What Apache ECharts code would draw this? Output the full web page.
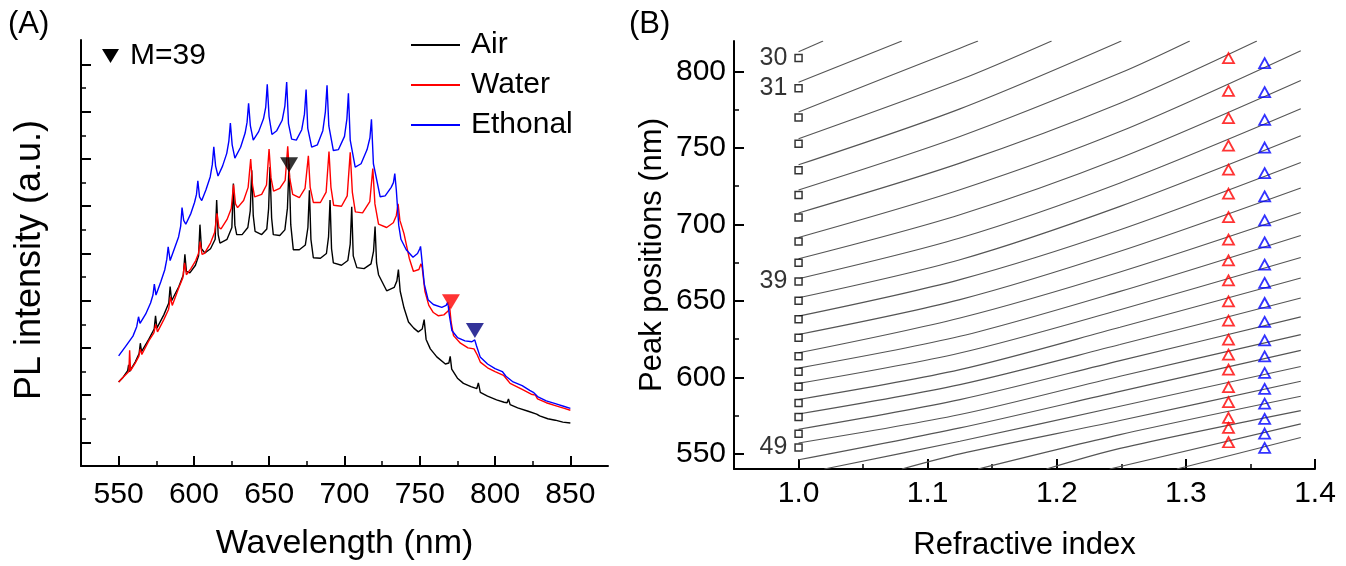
<!DOCTYPE html>
<html>
<head>
<meta charset="utf-8">
<title>PL spectra and mode positions</title>
<script src="https://cdn.jsdelivr.net/npm/echarts@6.0.0/dist/echarts.min.js"></script>
<style>
  html, body { margin: 0; padding: 0; background: #fff; }
  #main { width: 1346px; height: 566px; }
</style>
</head>
<body>
<div id="main"></div>
<script>
// ---- panel (A): PL spectra, wavelength (nm) vs intensity (a.u.) ----
const airNm = [550, 553, 556.0, 556.6, 557.2, 561, 563.6, 564.4, 565.2, 570, 573.6, 574.5, 575.4, 580, 583.3, 584.2, 585.2,
  590, 593.0, 594.0, 595.0, 597.3, 601, 603.1, 604.0, 605.0, 607.3, 611, 614.1, 615.1, 616.1, 617.3, 622, 625.2, 626.2,
  627.2, 628.4, 632, 635.8, 637.4, 638.4, 639.4, 640.6, 645, 648.4, 649.6, 650.5, 651.6, 652.7, 657, 660.4, 662.1, 663.2,
  664.3, 666.0, 670, 674, 675.7, 676.7, 677.7, 679.3, 684, 688, 689.4, 690.4, 691.4, 692.6, 698, 702.2, 703.8, 704.8,
  705.8, 708.2, 713, 717.6, 719.3, 720.3, 721.3, 722.6, 728, 733, 734.8, 735.8, 737, 739.5, 742.5, 746, 749, 751.6,
  752.9, 754.2, 757, 761.3, 767, 769.3, 770.2, 771.2, 775, 779, 784, 787.9, 788.9, 790.2, 795, 801, 806, 808.0, 808.9,
  810.0, 815, 822, 827.6, 828.6, 829.6, 835, 840, 845, 850];
const airI = [1.28, 1.38, 1.52, 1.64, 1.50, 1.70, 1.88, 2.10, 1.92, 2.18, 2.40, 2.68, 2.42, 2.70, 2.95, 3.30, 3.00,
  3.30, 3.55, 3.98, 3.62, 3.59, 3.75, 3.95, 4.61, 4.10, 4.01, 4.10, 4.30, 5.13, 4.40, 4.22, 4.30, 4.55, 5.48,
  4.60, 4.40, 4.40, 4.55, 4.90, 5.76, 4.80, 4.47, 4.40, 4.52, 4.95, 5.83, 4.75, 4.40, 4.38, 4.50, 4.96, 5.90,
  4.61, 4.08, 4.08, 4.18, 4.55, 5.34, 4.30, 3.91, 3.90, 4.00, 4.35, 5.13, 4.10, 3.80, 3.75, 3.85, 4.20, 4.99,
  3.95, 3.70, 3.68, 3.78, 4.05, 4.57, 3.80, 3.55, 3.21, 3.28, 3.42, 3.66, 3.20, 2.85, 2.55, 2.42, 2.34, 2.40,
  2.60, 2.18, 1.98, 1.81, 1.66, 1.68, 1.82, 1.55, 1.36, 1.25, 1.18, 1.14, 1.26, 1.06, 0.98, 0.90, 0.85, 0.84, 0.92,
  0.80, 0.73, 0.66, 0.60, 0.63, 0.56, 0.50, 0.47, 0.43, 0.41];

const waterNm = [550, 553, 556.8, 557.3, 557.9, 561, 563.4, 564.4, 565.4, 570, 573.4, 574.6, 575.8, 580, 583.2, 584.4, 585.6,
  590, 592.6, 593.8, 595.0, 598, 601.2, 603.0, 604.1, 605.4, 607, 611, 613.8, 615.3, 616.6, 618, 622, 624.8, 626.3, 627.6,
  629, 633, 636, 637.7, 638.9, 640.3, 645, 648.2, 649.9, 651.2, 652.9, 657, 660.6, 662.3, 663.6, 665.6, 670, 673.8, 676.0,
  677.2, 679.3, 684, 687.8, 689.7, 691.0, 692.8, 698, 701.8, 703.8, 705.2, 707.2, 712, 716.8, 718.8, 720.2, 722.6, 728,
  732.4, 734.4, 735.6, 736.8, 739.5, 743, 745.8, 749.4, 750.8, 751.6, 753.4, 756, 759, 762.4, 766, 768.8, 769.8, 770.8,
  772.4, 777, 782, 786.0, 787.0, 788.2, 790.2, 795, 800, 805.6, 806.8, 808.2, 810, 818, 824, 826.8, 828.2, 834, 840,
  846, 850];
const waterI = [1.28, 1.38, 1.50, 1.95, 1.52, 1.68, 1.82, 1.98, 1.86, 2.15, 2.32, 2.50, 2.34, 2.60, 2.82, 3.08, 2.90,
  3.28, 3.48, 3.80, 3.55, 3.68, 3.85, 4.00, 4.25, 3.98, 4.00, 4.22, 4.45, 4.85, 4.55, 4.52, 4.72, 4.95, 5.46, 5.05,
  4.97, 5.12, 5.40, 6.00, 5.45, 5.20, 5.25, 5.45, 6.21, 5.60, 5.32, 5.38, 5.55, 6.27, 5.60, 5.25, 5.18, 5.38, 6.07,
  5.40, 5.08, 5.08, 5.30, 6.16, 5.40, 5.02, 5.00, 5.22, 6.14, 5.30, 4.88, 4.86, 5.10, 5.80, 5.05, 4.62, 4.55,
  4.65, 4.80, 5.05, 4.70, 4.42, 3.90, 3.62, 3.66, 3.78, 3.70, 3.20, 2.90, 2.75, 2.68, 2.70, 2.78, 2.88, 2.55,
  2.26, 2.10, 2.00, 1.98, 2.02, 1.85, 1.70, 1.58, 1.50, 1.42, 1.45, 1.32, 1.25, 1.12, 1.02, 1.00, 0.92, 0.84, 0.78,
  0.72, 0.68];

const ethanolNm = [550, 555, 559.5, 562.0, 563.2, 564.2, 568, 571.2, 572.8, 573.7, 574.8, 578, 580.6, 582.0, 582.9, 584.2,
  587, 589.8, 591.2, 592.1, 593.2, 594.6, 598, 600.4, 601.7, 602.6, 603.7, 605.2, 608, 610.8, 612.2, 613.2, 614.4, 616.0,
  619, 621.8, 623.2, 624.2, 625.4, 627.2, 631, 634, 635.3, 636.3, 637.5, 639.4, 643, 646.2, 647.7, 648.7, 649.9, 651.8,
  655, 658.6, 660.4, 661.6, 662.8, 664.9, 668, 671.6, 673.4, 674.5, 675.6, 678.2, 682, 685.6, 687.3, 688.4, 689.6, 692.6,
  696, 700, 701.6, 702.6, 703.8, 707.1, 711, 715, 716.9, 717.9, 719.2, 723.7, 727, 731, 732.5, 733.4, 734.4, 736.0,
  737.5, 741, 745.5, 748.5, 750.0, 750.5, 751.6, 753, 755.5, 759, 764.6, 767.5, 768.6, 769.6, 771.3, 775, 780, 784.6,
  786.5, 787.6, 790.1, 795, 800, 804.8, 805.8, 807.2, 812, 818, 823, 825.4, 826.6, 828.2, 834, 840, 846, 850];
const ethanolI = [1.83, 2.05, 2.25, 2.45, 2.66, 2.52, 2.72, 2.95, 3.12, 3.35, 3.12, 3.40, 3.65, 3.88, 4.14, 3.85,
  4.10, 4.35, 4.58, 4.97, 4.70, 4.62, 4.85, 5.08, 5.25, 5.54, 5.20, 5.12, 5.35, 5.62, 5.88, 6.26, 5.85, 5.64,
  5.85, 6.12, 6.38, 6.76, 6.30, 6.02, 6.25, 6.55, 6.78, 7.18, 6.70, 6.40, 6.58, 6.85, 7.10, 7.58, 6.90, 6.52,
  6.60, 6.82, 7.12, 7.63, 6.75, 6.42, 6.40, 6.62, 6.95, 7.47, 6.65, 6.25, 6.30, 6.60, 7.00, 7.56, 6.70, 6.18,
  6.20, 6.48, 6.85, 7.39, 6.40, 5.83, 5.90, 6.20, 6.45, 6.84, 5.90, 5.20, 5.22, 5.40, 5.50, 5.69, 5.35, 4.60,
  4.30, 4.08, 3.92, 4.00, 4.10, 4.15, 3.80, 3.35, 3.02, 2.92, 2.86, 2.90, 2.97, 2.70, 2.37, 2.22, 2.15, 2.13,
  2.17, 2.05, 1.81, 1.66, 1.56, 1.50, 1.52, 1.40, 1.28, 1.20, 1.10, 1.06, 1.07, 0.97, 0.88, 0.82, 0.76, 0.72];

// marked peaks (inverted triangles): air M=39, water, ethanol
const markNm = [663.2, 770.7, 786.6];
const markI = [5.88, 2.98, 2.37];
const markColor = ['#000000', '#ff0000', '#000080'];

const xTicksA = [550, 600, 650, 700, 750, 800, 850];
const xMinorA = [575, 625, 675, 725, 775, 825];
const yTicksA = [0, 1, 2, 3, 4, 5, 6, 7, 8];
const yMinorA = [0.5, 1.5, 2.5, 3.5, 4.5, 5.5, 6.5, 7.5];

// ---- panel (B): peak positions vs refractive index ----
const sqModes = [30, 31, 32, 33, 34, 35, 36, 37, 38, 39, 40, 41, 42, 43, 44, 45, 46, 47, 48, 49];
const labeledModes = [30, 31, 39, 49];
const airPeakNm = [808.9, 789.1, 769.9, 752.7, 735.5, 719.2, 704.6, 688.8, 674.9, 662.6, 650.0, 637.9, 625.8, 613.7,
  603.7, 593.8, 583.2, 574.0, 563.0, 554.1];
const waterPeakNm = [808.8, 787.4, 769.5, 751.6, 735.8, 720.1, 704.8, 690.0, 676.5, 663.4, 649.7, 637.1, 624.6, 614.8,
  605.0, 593.5, 583.7, 573.5, 566.9, 557.5];
const ethanolPeakNm = [805.5, 786.5, 768.4, 750.3, 733.6, 718.3, 702.6, 688.2, 673.7, 661.7, 648.6, 636.2, 624.2, 613.7,
  602.9, 592.4, 582.8, 572.8, 563.2, 553.8];
const nAir = 1.0, nWater = 1.333, nEthanol = 1.361;

// calculated mode lines, modes 30..56, points [n, nm]
const modeLines = [
  [[1.0, 813.0], [1.019, 820]],
  [[1.0, 793.0], [1.080, 820]],
  [[1.0, 773.5], [1.125, 815.3], [1.139, 820]],
  [[1.0, 756.0], [1.125, 794.6], [1.196, 820]],
  [[1.0, 739.0], [1.125, 775.6], [1.250, 820]],
  [[1.0, 722.5], [1.125, 757.5], [1.249, 799.0], [1.303, 820]],
  [[1.0, 707.5], [1.125, 740.1], [1.249, 779.3], [1.355, 820]],
  [[1.0, 691.5], [1.125, 722.7], [1.249, 760.8], [1.389, 813.7]],
  [[1.0, 677.5], [1.125, 706.3], [1.249, 743.4], [1.389, 794.1]],
  [[1.0, 664.5], [1.125, 691.1], [1.249, 727.1], [1.389, 775.6]],
  [[1.0, 652.0], [1.125, 676.9], [1.249, 711.8], [1.389, 758.0]],
  [[1.0, 640.0], [1.125, 663.9], [1.249, 696.5], [1.389, 740.5]],
  [[1.0, 628.0], [1.125, 650.8], [1.249, 682.4], [1.389, 723.8]],
  [[1.0, 616.0], [1.125, 638.8], [1.249, 668.9], [1.389, 707.8]],
  [[1.0, 606.0], [1.125, 626.8], [1.249, 656.2], [1.389, 692.8]],
  [[1.0, 596.0], [1.125, 615.9], [1.249, 644.2], [1.389, 678.4]],
  [[1.0, 585.5], [1.125, 605.0], [1.249, 632.7], [1.389, 664.9]],
  [[1.0, 576.0], [1.125, 595.2], [1.249, 621.4], [1.389, 651.9]],
  [[1.0, 566.0], [1.125, 585.4], [1.249, 610.9], [1.389, 639.5]],
  [[1.0, 557.0], [1.125, 575.6], [1.249, 600.7], [1.389, 627.9]],
  [[1.0, 546.0], [1.125, 566.9], [1.249, 590.8], [1.389, 617.6]],
  [[1.020, 540], [1.125, 558.2], [1.249, 581.0], [1.389, 607.1]],
  [[1.080, 540], [1.125, 549.9], [1.249, 571.7], [1.389, 597.4]],
  [[1.139, 540], [1.249, 562.5], [1.389, 587.6]],
  [[1.192, 540], [1.249, 553.5], [1.389, 578.2]],
  [[1.241, 540], [1.389, 569.5]],
  [[1.293, 540], [1.389, 560.6]]
];

const xTicksB = [1.0, 1.1, 1.2, 1.3, 1.4];
const xMinorB = [1.05, 1.15, 1.25, 1.35];
const yTicksB = [550, 600, 650, 700, 750, 800];
const yMinorB = [575, 625, 675, 725, 775];

const FONT = 'Liberation Sans, Arial, sans-serif';

function zip(xs, ys) {
  return xs.map(function (x, i) { return [x, ys[i]]; });
}

function mainAxis(grid, min, max, ticks, name, gap, nameSize, labelMargin, fmt) {
  return {
    type: 'value', gridIndex: grid, min: min, max: max,
    name: name, nameLocation: 'middle', nameGap: gap,
    nameTextStyle: { fontFamily: FONT, fontSize: nameSize, color: '#000' },
    axisLine: { show: true, onZero: false, lineStyle: { color: '#000', width: 2 } },
    axisTick: { show: true, inside: true, length: 10, customValues: ticks, lineStyle: { color: '#000', width: 2 } },
    axisLabel: { show: labelMargin != null, customValues: ticks, margin: labelMargin || 8,
      fontFamily: FONT, fontSize: 30, color: '#000', formatter: fmt },
    splitLine: { show: false }
  };
}

function minorAxis(grid, min, max, ticks, pos) {
  return {
    type: 'value', gridIndex: grid, min: min, max: max, position: pos,
    axisLine: { show: false, onZero: false },
    axisTick: { show: true, inside: true, length: 5, customValues: ticks, lineStyle: { color: '#000', width: 1.5 } },
    axisLabel: { show: false },
    splitLine: { show: false }
  };
}

const chart = echarts.init(document.getElementById('main'), null, { renderer: 'canvas' });

const series = [];

// spectra
[['Air', airNm, airI, '#000000'], ['Water', waterNm, waterI, '#ff0000'], ['Ethonal', ethanolNm, ethanolI, '#0000ff']]
  .forEach(function (s) {
    series.push({
      name: s[0], type: 'line', xAxisIndex: 0, yAxisIndex: 0,
      data: zip(s[1], s[2]), symbol: 'none', showSymbol: false,
      lineStyle: { color: s[3], width: 1.4 }, itemStyle: { color: s[3] }
    });
  });

series.push({
  name: 'marks', type: 'scatter', xAxisIndex: 0, yAxisIndex: 0,
  symbol: 'triangle', symbolRotate: 180, symbolSize: [18, 15], z: 5,
  data: markNm.map(function (x, i) {
    return { value: [x, markI[i]], itemStyle: { color: markColor[i] } };
  })
});

// mode lines
modeLines.forEach(function (pts, i) {
  series.push({
    name: 'M' + (30 + i), type: 'line', xAxisIndex: 2, yAxisIndex: 2,
    data: pts, symbol: 'none', showSymbol: false, smooth: 0.3,
    lineStyle: { color: '#555555', width: 1.1 }, silent: true, z: 1
  });
});

series.push({
  name: 'air peaks', type: 'scatter', xAxisIndex: 2, yAxisIndex: 2,
  symbol: 'rect', symbolSize: 7, z: 3,
  itemStyle: { color: '#fff', borderColor: '#000', borderWidth: 1.5 },
  data: airPeakNm.map(function (v, i) {
    const m = sqModes[i];
    const item = { value: [nAir, v] };
    if (labeledModes.indexOf(m) >= 0) {
      item.label = { show: true, position: 'left', distance: 7, formatter: String(m),
        fontFamily: FONT, fontSize: 25, color: '#000' };
    }
    return item;
  })
});

series.push({
  name: 'water peaks', type: 'scatter', xAxisIndex: 2, yAxisIndex: 2,
  symbol: 'triangle', symbolSize: [11, 10], z: 3,
  itemStyle: { color: 'rgba(0,0,0,0)', borderColor: '#ff0000', borderWidth: 1.8 },
  data: waterPeakNm.map(function (v) { return [nWater, v]; })
});

series.push({
  name: 'ethanol peaks', type: 'scatter', xAxisIndex: 2, yAxisIndex: 2,
  symbol: 'triangle', symbolSize: [11, 10], z: 3,
  itemStyle: { color: 'rgba(0,0,0,0)', borderColor: '#0000ff', borderWidth: 1.8 },
  data: ethanolPeakNm.map(function (v) { return [nEthanol, v]; })
});

const option = {
  animation: false,
  backgroundColor: '#ffffff',
  textStyle: { fontFamily: FONT },
  grid: [
    { left: 81, top: 40, width: 527, height: 430 },
    { left: 734, top: 41, width: 581, height: 428 }
  ],
  legend: {
    data: ['Air', 'Water', 'Ethonal'],
    orient: 'vertical', left: 406, top: 25,
    icon: 'rect', itemWidth: 49, itemHeight: 2, itemGap: 10,
    textStyle: { fontFamily: FONT, fontSize: 30, color: '#000', padding: [0, 0, 0, 6] },
    selectedMode: false
  },
  xAxis: [
    mainAxis(0, 525, 875, xTicksA, 'Wavelength (nm)', 61, 34, 14, function (v) { return String(v); }),
    minorAxis(0, 525, 875, xMinorA, 'bottom'),
    mainAxis(1, 0.95, 1.4, xTicksB, 'Refractive index', 61, 31, 10, function (v) { return v.toFixed(1); }),
    minorAxis(1, 0.95, 1.4, xMinorB, 'bottom')
  ],
  yAxis: [
    mainAxis(0, -0.5, 8.52, yTicksA, 'PL intensity (a.u.)', 33, 36, null, null),
    minorAxis(0, -0.5, 8.52, yMinorA, 'left'),
    mainAxis(1, 540, 820, yTicksB, 'Peak positions (nm)', 66, 31, 8, function (v) { return String(v); }),
    minorAxis(1, 540, 820, yMinorB, 'left')
  ],
  graphic: [
    { type: 'text', left: 8, top: 9, style: { text: '(A)', font: '31px ' + FONT, fill: '#000' } },
    { type: 'text', left: 629, top: 9, style: { text: '(B)', font: '31px ' + FONT, fill: '#000' } },
    { type: 'polygon', shape: { points: [[102, 49], [119, 49], [110.5, 63]] }, style: { fill: '#000' } },
    { type: 'text', left: 130, top: 41, style: { text: 'M=39', font: '30px ' + FONT, fill: '#000' } }
  ],
  series: series
};

// the (A) axis title sits a little above the middle of the axis
option.yAxis[0].nameTextStyle.padding = [0, 14, 0, 0];

chart.setOption(option);
</script>
</body>
</html>
